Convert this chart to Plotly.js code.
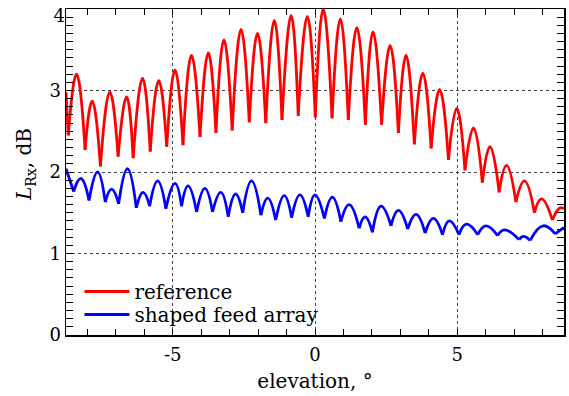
<!DOCTYPE html>
<html>
<head>
<meta charset="utf-8">
<script src="https://cdn.plot.ly/plotly-3.0.1.min.js"></script>
<style>html,body{margin:0;padding:0;background:#fff;}#chart{width:569px;height:396px;}</style>
</head>
<body>
<div id="chart"></div>
<script>
// Extremes (edge, nulls and lobe peaks)
const refX = [-8.75,-8.67,-8.38,-8.08,-7.83,-7.54,-7.21,-6.92,-6.62,-6.39,-6.06,-5.79,-5.49,-5.21,-4.92,-4.64,-4.34,-4.04,-3.75,-3.48,-3.20,-2.91,-2.60,-2.31,-2.02,-1.73,-1.43,-1.16,-0.84,-0.59,-0.27,0.01,0.29,0.60,0.89,1.17,1.47,1.77,2.04,2.34,2.64,2.93,3.20,3.49,3.79,4.08,4.38,4.69,4.98,5.27,5.57,5.88,6.15,6.47,6.73,7.06,7.36,7.71,7.96,8.34,8.61,8.75];
const refY = [2.98,2.45,3.20,2.27,2.87,2.07,2.98,2.19,2.92,2.17,3.15,2.25,3.12,2.31,3.25,2.33,3.43,2.43,3.46,2.48,3.62,2.51,3.75,2.61,3.70,2.60,3.86,2.64,3.92,2.69,3.91,2.67,4.00,2.66,3.88,2.64,3.77,2.58,3.72,2.58,3.55,2.48,3.43,2.34,3.21,2.29,3.01,2.15,2.78,2.02,2.54,1.87,2.31,1.75,2.08,1.63,1.89,1.50,1.67,1.41,1.56,1.55];

const sfaX = [-8.75,-8.48,-8.23,-7.94,-7.64,-7.37,-7.15,-6.90,-6.59,-6.28,-6.04,-5.81,-5.53,-5.24,-4.92,-4.69,-4.46,-4.16,-3.87,-3.60,-3.31,-3.05,-2.79,-2.54,-2.23,-1.90,-1.66,-1.38,-1.08,-0.82,-0.53,-0.24,0.00,0.33,0.61,0.91,1.20,1.55,1.76,2.02,2.32,2.67,2.93,3.26,3.55,3.87,4.16,4.48,4.72,5.06,5.32,5.72,6.00,6.42,6.66,7.17,7.32,7.56,8.02,8.44,8.75];
const sfaY = [2.04,1.76,1.92,1.65,2.00,1.63,1.79,1.61,2.04,1.56,1.75,1.58,1.89,1.55,1.86,1.58,1.83,1.51,1.80,1.51,1.75,1.45,1.73,1.50,1.89,1.47,1.68,1.41,1.71,1.44,1.72,1.45,1.72,1.43,1.69,1.39,1.60,1.31,1.45,1.26,1.58,1.34,1.53,1.30,1.48,1.25,1.43,1.23,1.40,1.23,1.36,1.23,1.34,1.22,1.29,1.17,1.21,1.16,1.34,1.24,1.32];

const seriesNames = ['reference', 'shaped feed array'];
const xTickVals = [-5, 0, 5];
const yTickVals = [0, 1, 2, 3, 4];
const yTitle = '<i>L</i><sub>Rx</sub>, dB';
const xTitle = 'elevation, °';

// split the curve into lobes at the nulls so each lobe is a smooth arch with a cusp at the null
function lobes(xs, ys) {
  const ox = [], oy = [];
  let cx = [xs[0]], cy = [ys[0]];
  for (let i = 1; i < xs.length; i++) {
    cx.push(xs[i]); cy.push(ys[i]);
    const isNull = i < xs.length - 1 && ys[i] < ys[i-1] && ys[i] < ys[i+1];
    if (isNull) {
      ox.push(...cx, null); oy.push(...cy, null);
      cx = [xs[i]]; cy = [ys[i]];
    }
  }
  ox.push(...cx); oy.push(...cy);
  return [ox, oy];
}

const r = lobes(refX, refY);
const b = lobes(sfaX, sfaY);
const FONT = '"DejaVu Serif", serif';
const FS = 18;
const FT = 20;

const traces = [
  {x: r[0], y: r[1], name: seriesNames[0], mode: 'lines', connectgaps: false, legend: 'legend',
   line: {color: '#ff0000', width: 2.8, shape: 'spline', smoothing: 1.3}},
  {x: b[0], y: b[1], name: seriesNames[1], mode: 'lines', connectgaps: false, legend: 'legend2',
   line: {color: '#0000ff', width: 2.8, shape: 'spline', smoothing: 1.3}}
];

const legendBase = {x: 0.027, xanchor: 'left', yanchor: 'bottom', bgcolor: 'rgba(0,0,0,0)',
  itemwidth: 45, font: {family: FONT, size: FT, color: '#000'}};

const layout = {
  width: 569, height: 396,
  margin: {l: 66, r: 5, t: 9, b: 61},
  paper_bgcolor: '#fff', plot_bgcolor: '#fff',
  font: {family: FONT, size: FS, color: '#000'},
  showlegend: true,
  legend: Object.assign({}, legendBase, {y: 0.0736}),
  legend2: Object.assign({}, legendBase, {y: 0.003}),
  xaxis: {
    range: [-8.75, 8.75], tickmode: 'array', tickvals: xTickVals, ticktext: xTickVals.map(String),
    ticks: 'inside', ticklen: 6, tickcolor: '#000', tickwidth: 1,
    minor: {dtick: 1, tick0: 0, ticks: 'inside', ticklen: 6, tickcolor: '#000', showgrid: false},
    showline: true, linecolor: '#000', linewidth: 1.5, mirror: 'ticks',
    showgrid: true, gridcolor: '#444', griddash: 'dot', gridwidth: 1,
    zeroline: false, ticklabelstandoff: 3,
    title: {text: xTitle, font: {family: FONT, size: FT}, standoff: 10},
    tickfont: {family: FONT, size: FS}
  },
  yaxis: {
    range: [0, 4], tickmode: 'array', tickvals: yTickVals,
    ticktext: yTickVals.map(v => v === 4 ? '' : String(v)),
    ticks: 'inside', ticklen: 7, tickcolor: '#000', tickwidth: 1,
    minor: {dtick: 0.1, tick0: 0, ticks: 'inside', ticklen: 7, tickcolor: '#000', showgrid: false},
    showline: true, linecolor: '#000', linewidth: 1.5, mirror: 'ticks',
    showgrid: true, gridcolor: '#444', griddash: 'dot', gridwidth: 1,
    zeroline: false,
    tickfont: {family: FONT, size: FS}
  },
  // top tick label "4" kept inside the picture, as in the reference
  yaxis2: {
    overlaying: 'y', side: 'left', range: [0, 4], tickmode: 'array',
    tickvals: [yTickVals[4]], ticktext: [String(yTickVals[4])],
    ticks: '', showgrid: false, showline: false, zeroline: false,
    ticklabelshift: 7, ticklabeloverflow: 'allow',
    tickfont: {family: FONT, size: FS}
  },
  annotations: [{
    text: yTitle, xref: 'paper', yref: 'paper', x: -0.082, y: 0.522,
    xanchor: 'center', yanchor: 'middle', textangle: -90, showarrow: false,
    font: {family: FONT, size: FT, color: '#000'}
  }]
};

// invisible helper trace so yaxis2 is drawn
traces.push({x: [xTickVals[0]], y: [yTickVals[4]], yaxis: 'y2', mode: 'markers',
  marker: {opacity: 0}, showlegend: false, hoverinfo: 'skip'});

Plotly.newPlot('chart', traces, layout, {staticPlot: true, displayModeBar: false});
</script>
</body>
</html>
